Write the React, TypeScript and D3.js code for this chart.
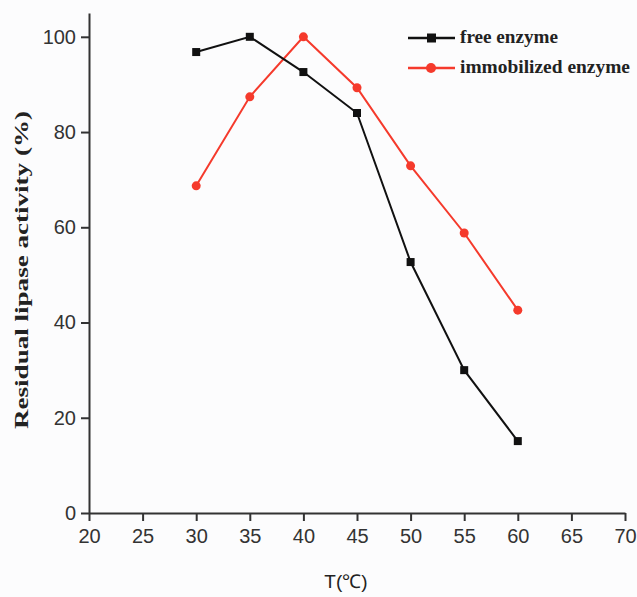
import { useRef, useEffect } from "react";
import * as d3 from "d3";

const temps = [30, 35, 40, 45, 50, 55, 60];
const freeEnzyme = [96.8, 100, 92.6, 84, 52.7, 30, 15.1];
const immobilizedEnzyme = [68.7, 87.4, 100, 89.3, 72.9, 58.8, 42.6];
const xTicks = [20, 25, 30, 35, 40, 45, 50, 55, 60, 65, 70];
const yTicks = [0, 20, 40, 60, 80, 100];

const App = () => {
  const svgRef = useRef<SVGSVGElement>(null);

  useEffect(() => {
    const w = 637;
    const h = 597;
    const svg = d3.select(svgRef.current);
    svg.selectAll("*").remove();
    svg.attr("width", w).attr("height", h);

    svg.append("rect").attr("width", w).attr("height", h).attr("fill", "#fcfcfd");

    const x = d3.scaleLinear().domain([20, 70]).range([89, 625]);
    const y = d3.scaleLinear().domain([0, 105]).range([513, 13]);

    const axisColor = "#333";

    const xAxis = d3.axisBottom(x).tickValues(xTicks).tickSize(8).tickPadding(8).tickSizeOuter(0);
    const gx = svg.append("g").attr("transform", `translate(0, ${y(0)})`).call(xAxis);

    const yAxis = d3.axisLeft(y).tickValues(yTicks).tickSize(8).tickPadding(5).tickSizeOuter(0);
    const gy = svg.append("g").attr("transform", `translate(${x(20)}, 0)`).call(yAxis);

    [gx, gy].forEach((g) => {
      g.select(".domain").attr("stroke", axisColor).attr("stroke-width", 2);
      g.selectAll(".tick line").attr("stroke", axisColor).attr("stroke-width", 2);
      g.selectAll(".tick text")
        .attr("fill", "#333")
        .style("font-family", "Liberation Sans, Arial, sans-serif")
        .style("font-size", "20px");
    });

    // axis titles
    svg.append("text")
      .attr("transform", `translate(28, 270) rotate(-90)`)
      .attr("text-anchor", "middle")
      .attr("textLength", 318)
      .attr("lengthAdjust", "spacingAndGlyphs")
      .style("font-family", "Liberation Serif, Times New Roman, serif")
      .style("font-weight", "bold")
      .style("font-size", "19px")
      .attr("fill", "#222")
      .text("Residual lipase activity (%)");

    svg.append("text")
      .attr("x", 346)
      .attr("y", 588)
      .attr("text-anchor", "middle")
      .style("font-family", "Liberation Sans, Arial, sans-serif")
      .style("font-size", "19px")
      .attr("fill", "#222")
      .text("T(℃)");

    const line = d3.line<[number, number]>()
      .x((d) => x(d[0]))
      .y((d) => y(d[1]));

    const freeData = temps.map((t, i) => [t, freeEnzyme[i]] as [number, number]);
    const immData = temps.map((t, i) => [t, immobilizedEnzyme[i]] as [number, number]);

    const red = "#f53a2c";

    svg.append("path")
      .datum(immData)
      .attr("fill", "none")
      .attr("stroke", red)
      .attr("stroke-width", 2)
      .attr("d", line);

    svg.selectAll(".imm")
      .data(immData)
      .enter()
      .append("circle")
      .attr("cx", (d) => x(d[0]))
      .attr("cy", (d) => y(d[1]))
      .attr("r", 4.5)
      .attr("fill", red);

    svg.append("path")
      .datum(freeData)
      .attr("fill", "none")
      .attr("stroke", "#111")
      .attr("stroke-width", 2)
      .attr("d", line);

    svg.selectAll(".free")
      .data(freeData)
      .enter()
      .append("rect")
      .attr("x", (d) => x(d[0]) - 4)
      .attr("y", (d) => y(d[1]) - 4)
      .attr("width", 8)
      .attr("height", 8)
      .attr("fill", "#111");

    // legend
    const legend = [
      { label: "free enzyme", color: "#111", shape: "square", len: 98 },
      { label: "immobilized enzyme", color: red, shape: "circle", len: 170 },
    ];
    legend.forEach((item, i) => {
      const ly = 38 + i * 30;
      const g = svg.append("g");
      g.append("line")
        .attr("x1", 408).attr("x2", 455)
        .attr("y1", ly).attr("y2", ly)
        .attr("stroke", item.color).attr("stroke-width", 2.5);
      if (item.shape === "square") {
        g.append("rect").attr("x", 427).attr("y", ly - 4.5).attr("width", 9).attr("height", 9).attr("fill", item.color);
      } else {
        g.append("circle").attr("cx", 431).attr("cy", ly).attr("r", 5).attr("fill", item.color);
      }
      g.append("text")
        .attr("x", 460)
        .attr("y", ly + 5)
        .attr("textLength", item.len)
        .attr("lengthAdjust", "spacingAndGlyphs")
        .style("font-family", "Liberation Serif, Times New Roman, serif")
        .style("font-weight", "bold")
        .style("font-size", "18px")
        .attr("fill", "#222")
        .text(item.label);
    });
  }, []);

  return (
    <div style={{ position: "fixed", top: 0, left: 0 }}>
      <svg ref={svgRef} style={{ display: "block" }}></svg>
    </div>
  );
};

export default App;
